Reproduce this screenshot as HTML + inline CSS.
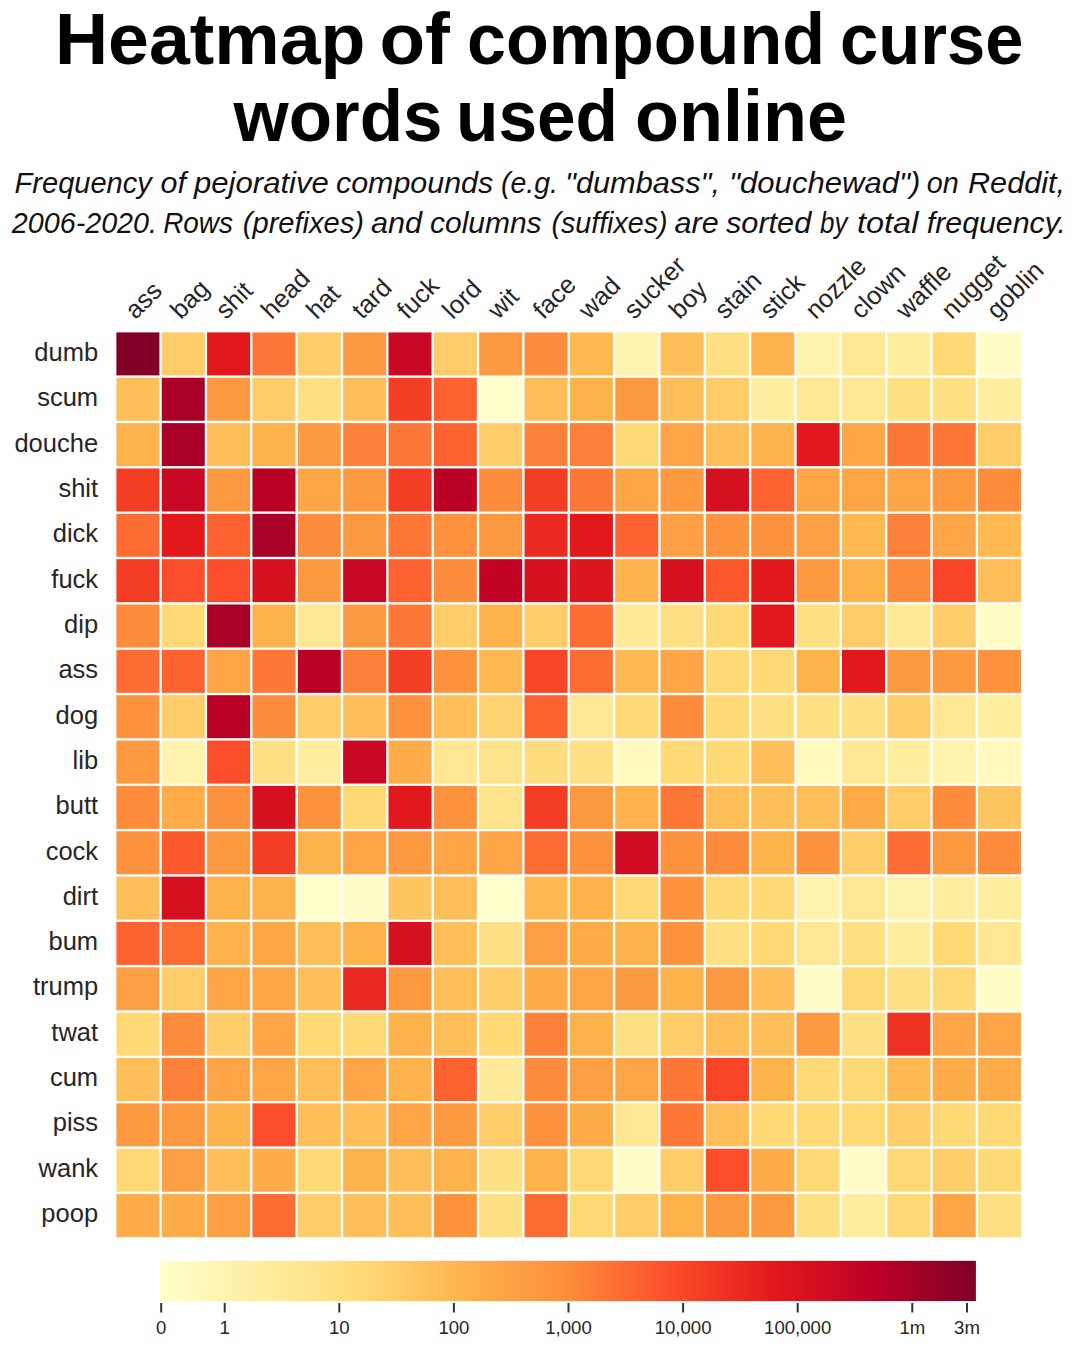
<!DOCTYPE html><html><head><meta charset="utf-8"><style>html,body{margin:0;padding:0;background:#fff;}svg{display:block;}</style></head><body>
<svg width="1080" height="1350" viewBox="0 0 1080 1350">
<rect x="0" y="0" width="1080" height="1350" fill="#fff"/>
<text x="55.00" y="64.20" font-family="&quot;Liberation Sans&quot;, sans-serif" font-weight="bold" fill="#000" font-size="72.00" textLength="310.50" lengthAdjust="spacingAndGlyphs">Heatmap</text>
<text x="379.50" y="64.20" font-family="&quot;Liberation Sans&quot;, sans-serif" font-weight="bold" fill="#000" font-size="72.00" textLength="70.50" lengthAdjust="spacingAndGlyphs">of</text>
<text x="467.00" y="64.20" font-family="&quot;Liberation Sans&quot;, sans-serif" font-weight="bold" fill="#000" font-size="72.00" textLength="358.00" lengthAdjust="spacingAndGlyphs">compound</text>
<text x="840.00" y="64.20" font-family="&quot;Liberation Sans&quot;, sans-serif" font-weight="bold" fill="#000" font-size="72.00" textLength="183.50" lengthAdjust="spacingAndGlyphs">curse</text>
<text x="233.50" y="140.90" font-family="&quot;Liberation Sans&quot;, sans-serif" font-weight="bold" fill="#000" font-size="72.00" textLength="209.00" lengthAdjust="spacingAndGlyphs">words</text>
<text x="456.00" y="140.90" font-family="&quot;Liberation Sans&quot;, sans-serif" font-weight="bold" fill="#000" font-size="72.00" textLength="162.00" lengthAdjust="spacingAndGlyphs">used</text>
<text x="635.00" y="140.90" font-family="&quot;Liberation Sans&quot;, sans-serif" font-weight="bold" fill="#000" font-size="72.00" textLength="212.00" lengthAdjust="spacingAndGlyphs">online</text>
<text x="14.60" y="192.80" font-family="&quot;Liberation Sans&quot;, sans-serif" font-style="italic" fill="#111" font-size="30.40" textLength="137.20" lengthAdjust="spacingAndGlyphs">Frequency</text>
<text x="160.60" y="192.80" font-family="&quot;Liberation Sans&quot;, sans-serif" font-style="italic" fill="#111" font-size="30.40" textLength="25.40" lengthAdjust="spacingAndGlyphs">of</text>
<text x="194.00" y="192.80" font-family="&quot;Liberation Sans&quot;, sans-serif" font-style="italic" fill="#111" font-size="30.40" textLength="134.80" lengthAdjust="spacingAndGlyphs">pejorative</text>
<text x="336.00" y="192.80" font-family="&quot;Liberation Sans&quot;, sans-serif" font-style="italic" fill="#111" font-size="30.40" textLength="157.20" lengthAdjust="spacingAndGlyphs">compounds</text>
<text x="501.00" y="192.80" font-family="&quot;Liberation Sans&quot;, sans-serif" font-style="italic" fill="#111" font-size="30.40" textLength="57.00" lengthAdjust="spacingAndGlyphs">(e.g.</text>
<text x="565.00" y="192.80" font-family="&quot;Liberation Sans&quot;, sans-serif" font-style="italic" fill="#111" font-size="30.40" textLength="155.00" lengthAdjust="spacingAndGlyphs">&quot;dumbass&quot;,</text>
<text x="729.00" y="192.80" font-family="&quot;Liberation Sans&quot;, sans-serif" font-style="italic" fill="#111" font-size="30.40" textLength="191.40" lengthAdjust="spacingAndGlyphs">&quot;douchewad&quot;)</text>
<text x="926.80" y="192.80" font-family="&quot;Liberation Sans&quot;, sans-serif" font-style="italic" fill="#111" font-size="30.40" textLength="32.00" lengthAdjust="spacingAndGlyphs">on</text>
<text x="968.00" y="192.80" font-family="&quot;Liberation Sans&quot;, sans-serif" font-style="italic" fill="#111" font-size="30.40" textLength="97.00" lengthAdjust="spacingAndGlyphs">Reddit,</text>
<text x="11.80" y="232.70" font-family="&quot;Liberation Sans&quot;, sans-serif" font-style="italic" fill="#111" font-size="30.40" textLength="145.20" lengthAdjust="spacingAndGlyphs">2006-2020.</text>
<text x="163.20" y="232.70" font-family="&quot;Liberation Sans&quot;, sans-serif" font-style="italic" fill="#111" font-size="30.40" textLength="69.80" lengthAdjust="spacingAndGlyphs">Rows</text>
<text x="242.80" y="232.70" font-family="&quot;Liberation Sans&quot;, sans-serif" font-style="italic" fill="#111" font-size="30.40" textLength="121.20" lengthAdjust="spacingAndGlyphs">(prefixes)</text>
<text x="371.00" y="232.70" font-family="&quot;Liberation Sans&quot;, sans-serif" font-style="italic" fill="#111" font-size="30.40" textLength="51.00" lengthAdjust="spacingAndGlyphs">and</text>
<text x="430.00" y="232.70" font-family="&quot;Liberation Sans&quot;, sans-serif" font-style="italic" fill="#111" font-size="30.40" textLength="111.60" lengthAdjust="spacingAndGlyphs">columns</text>
<text x="551.40" y="232.70" font-family="&quot;Liberation Sans&quot;, sans-serif" font-style="italic" fill="#111" font-size="30.40" textLength="116.20" lengthAdjust="spacingAndGlyphs">(suffixes)</text>
<text x="674.60" y="232.70" font-family="&quot;Liberation Sans&quot;, sans-serif" font-style="italic" fill="#111" font-size="30.40" textLength="44.20" lengthAdjust="spacingAndGlyphs">are</text>
<text x="726.00" y="232.70" font-family="&quot;Liberation Sans&quot;, sans-serif" font-style="italic" fill="#111" font-size="30.40" textLength="85.20" lengthAdjust="spacingAndGlyphs">sorted</text>
<text x="820.00" y="232.70" font-family="&quot;Liberation Sans&quot;, sans-serif" font-style="italic" fill="#111" font-size="30.40" textLength="27.40" lengthAdjust="spacingAndGlyphs">by</text>
<text x="857.00" y="232.70" font-family="&quot;Liberation Sans&quot;, sans-serif" font-style="italic" fill="#111" font-size="30.40" textLength="61.40" lengthAdjust="spacingAndGlyphs">total</text>
<text x="926.80" y="232.70" font-family="&quot;Liberation Sans&quot;, sans-serif" font-style="italic" fill="#111" font-size="30.40" textLength="139.20" lengthAdjust="spacingAndGlyphs">frequency.</text>
<rect x="116.40" y="332.40" width="43.00" height="43.00" fill="#800026"/>
<rect x="161.75" y="332.40" width="43.00" height="43.00" fill="#fecc68"/>
<rect x="207.10" y="332.40" width="43.00" height="43.00" fill="#e2191c"/>
<rect x="252.45" y="332.40" width="43.00" height="43.00" fill="#fd7836"/>
<rect x="297.80" y="332.40" width="43.00" height="43.00" fill="#fecc68"/>
<rect x="343.15" y="332.40" width="43.00" height="43.00" fill="#fd9941"/>
<rect x="388.50" y="332.40" width="43.00" height="43.00" fill="#c90823"/>
<rect x="433.85" y="332.40" width="43.00" height="43.00" fill="#fecc68"/>
<rect x="479.20" y="332.40" width="43.00" height="43.00" fill="#fd9941"/>
<rect x="524.55" y="332.40" width="43.00" height="43.00" fill="#fd8c3c"/>
<rect x="569.90" y="332.40" width="43.00" height="43.00" fill="#feb953"/>
<rect x="615.25" y="332.40" width="43.00" height="43.00" fill="#fff3af"/>
<rect x="660.60" y="332.40" width="43.00" height="43.00" fill="#febf5a"/>
<rect x="705.95" y="332.40" width="43.00" height="43.00" fill="#fee084"/>
<rect x="751.30" y="332.40" width="43.00" height="43.00" fill="#feb24c"/>
<rect x="796.65" y="332.40" width="43.00" height="43.00" fill="#fff3af"/>
<rect x="842.00" y="332.40" width="43.00" height="43.00" fill="#ffe793"/>
<rect x="887.35" y="332.40" width="43.00" height="43.00" fill="#ffeda0"/>
<rect x="932.70" y="332.40" width="43.00" height="43.00" fill="#fed976"/>
<rect x="978.05" y="332.40" width="43.00" height="43.00" fill="#fffcc5"/>
<rect x="116.40" y="377.75" width="43.00" height="43.00" fill="#febf5a"/>
<rect x="161.75" y="377.75" width="43.00" height="43.00" fill="#a80026"/>
<rect x="207.10" y="377.75" width="43.00" height="43.00" fill="#fd9941"/>
<rect x="252.45" y="377.75" width="43.00" height="43.00" fill="#fecc68"/>
<rect x="297.80" y="377.75" width="43.00" height="43.00" fill="#fee084"/>
<rect x="343.15" y="377.75" width="43.00" height="43.00" fill="#febf5a"/>
<rect x="388.50" y="377.75" width="43.00" height="43.00" fill="#f43d25"/>
<rect x="433.85" y="377.75" width="43.00" height="43.00" fill="#fc6330"/>
<rect x="479.20" y="377.75" width="43.00" height="43.00" fill="#ffffcc"/>
<rect x="524.55" y="377.75" width="43.00" height="43.00" fill="#febf5a"/>
<rect x="569.90" y="377.75" width="43.00" height="43.00" fill="#feb24c"/>
<rect x="615.25" y="377.75" width="43.00" height="43.00" fill="#fd9941"/>
<rect x="660.60" y="377.75" width="43.00" height="43.00" fill="#febf5a"/>
<rect x="705.95" y="377.75" width="43.00" height="43.00" fill="#fecc68"/>
<rect x="751.30" y="377.75" width="43.00" height="43.00" fill="#ffeda0"/>
<rect x="796.65" y="377.75" width="43.00" height="43.00" fill="#ffe793"/>
<rect x="842.00" y="377.75" width="43.00" height="43.00" fill="#ffe793"/>
<rect x="887.35" y="377.75" width="43.00" height="43.00" fill="#fee084"/>
<rect x="932.70" y="377.75" width="43.00" height="43.00" fill="#fee084"/>
<rect x="978.05" y="377.75" width="43.00" height="43.00" fill="#ffeda0"/>
<rect x="116.40" y="423.10" width="43.00" height="43.00" fill="#feb24c"/>
<rect x="161.75" y="423.10" width="43.00" height="43.00" fill="#a80026"/>
<rect x="207.10" y="423.10" width="43.00" height="43.00" fill="#febf5a"/>
<rect x="252.45" y="423.10" width="43.00" height="43.00" fill="#feb24c"/>
<rect x="297.80" y="423.10" width="43.00" height="43.00" fill="#fd9941"/>
<rect x="343.15" y="423.10" width="43.00" height="43.00" fill="#fd8239"/>
<rect x="388.50" y="423.10" width="43.00" height="43.00" fill="#fd7836"/>
<rect x="433.85" y="423.10" width="43.00" height="43.00" fill="#fc6330"/>
<rect x="479.20" y="423.10" width="43.00" height="43.00" fill="#fecc68"/>
<rect x="524.55" y="423.10" width="43.00" height="43.00" fill="#fd8239"/>
<rect x="569.90" y="423.10" width="43.00" height="43.00" fill="#fd8239"/>
<rect x="615.25" y="423.10" width="43.00" height="43.00" fill="#fed976"/>
<rect x="660.60" y="423.10" width="43.00" height="43.00" fill="#fea647"/>
<rect x="705.95" y="423.10" width="43.00" height="43.00" fill="#febf5a"/>
<rect x="751.30" y="423.10" width="43.00" height="43.00" fill="#feb24c"/>
<rect x="796.65" y="423.10" width="43.00" height="43.00" fill="#e2191c"/>
<rect x="842.00" y="423.10" width="43.00" height="43.00" fill="#fea647"/>
<rect x="887.35" y="423.10" width="43.00" height="43.00" fill="#fd7836"/>
<rect x="932.70" y="423.10" width="43.00" height="43.00" fill="#fd7836"/>
<rect x="978.05" y="423.10" width="43.00" height="43.00" fill="#fecc68"/>
<rect x="116.40" y="468.45" width="43.00" height="43.00" fill="#f43d25"/>
<rect x="161.75" y="468.45" width="43.00" height="43.00" fill="#c90823"/>
<rect x="207.10" y="468.45" width="43.00" height="43.00" fill="#fd9941"/>
<rect x="252.45" y="468.45" width="43.00" height="43.00" fill="#bb0026"/>
<rect x="297.80" y="468.45" width="43.00" height="43.00" fill="#fea647"/>
<rect x="343.15" y="468.45" width="43.00" height="43.00" fill="#fd9941"/>
<rect x="388.50" y="468.45" width="43.00" height="43.00" fill="#f43d25"/>
<rect x="433.85" y="468.45" width="43.00" height="43.00" fill="#bb0026"/>
<rect x="479.20" y="468.45" width="43.00" height="43.00" fill="#fd8c3c"/>
<rect x="524.55" y="468.45" width="43.00" height="43.00" fill="#f43d25"/>
<rect x="569.90" y="468.45" width="43.00" height="43.00" fill="#fd7836"/>
<rect x="615.25" y="468.45" width="43.00" height="43.00" fill="#fea647"/>
<rect x="660.60" y="468.45" width="43.00" height="43.00" fill="#fd9941"/>
<rect x="705.95" y="468.45" width="43.00" height="43.00" fill="#d6111f"/>
<rect x="751.30" y="468.45" width="43.00" height="43.00" fill="#fc6330"/>
<rect x="796.65" y="468.45" width="43.00" height="43.00" fill="#fea647"/>
<rect x="842.00" y="468.45" width="43.00" height="43.00" fill="#fea647"/>
<rect x="887.35" y="468.45" width="43.00" height="43.00" fill="#fea647"/>
<rect x="932.70" y="468.45" width="43.00" height="43.00" fill="#fd9941"/>
<rect x="978.05" y="468.45" width="43.00" height="43.00" fill="#fd8c3c"/>
<rect x="116.40" y="513.80" width="43.00" height="43.00" fill="#fc6c33"/>
<rect x="161.75" y="513.80" width="43.00" height="43.00" fill="#e2191c"/>
<rect x="207.10" y="513.80" width="43.00" height="43.00" fill="#fc6330"/>
<rect x="252.45" y="513.80" width="43.00" height="43.00" fill="#a80026"/>
<rect x="297.80" y="513.80" width="43.00" height="43.00" fill="#fd8c3c"/>
<rect x="343.15" y="513.80" width="43.00" height="43.00" fill="#fd9941"/>
<rect x="388.50" y="513.80" width="43.00" height="43.00" fill="#fd7836"/>
<rect x="433.85" y="513.80" width="43.00" height="43.00" fill="#fd933f"/>
<rect x="479.20" y="513.80" width="43.00" height="43.00" fill="#fd9941"/>
<rect x="524.55" y="513.80" width="43.00" height="43.00" fill="#eb2b21"/>
<rect x="569.90" y="513.80" width="43.00" height="43.00" fill="#e2191c"/>
<rect x="615.25" y="513.80" width="43.00" height="43.00" fill="#fc6330"/>
<rect x="660.60" y="513.80" width="43.00" height="43.00" fill="#fd9f44"/>
<rect x="705.95" y="513.80" width="43.00" height="43.00" fill="#fd933f"/>
<rect x="751.30" y="513.80" width="43.00" height="43.00" fill="#fd933f"/>
<rect x="796.65" y="513.80" width="43.00" height="43.00" fill="#fd9f44"/>
<rect x="842.00" y="513.80" width="43.00" height="43.00" fill="#feb953"/>
<rect x="887.35" y="513.80" width="43.00" height="43.00" fill="#fd8239"/>
<rect x="932.70" y="513.80" width="43.00" height="43.00" fill="#fea647"/>
<rect x="978.05" y="513.80" width="43.00" height="43.00" fill="#feb953"/>
<rect x="116.40" y="559.15" width="43.00" height="43.00" fill="#f43d25"/>
<rect x="161.75" y="559.15" width="43.00" height="43.00" fill="#fc4d2a"/>
<rect x="207.10" y="559.15" width="43.00" height="43.00" fill="#fc4d2a"/>
<rect x="252.45" y="559.15" width="43.00" height="43.00" fill="#d6111f"/>
<rect x="297.80" y="559.15" width="43.00" height="43.00" fill="#fd9941"/>
<rect x="343.15" y="559.15" width="43.00" height="43.00" fill="#c90823"/>
<rect x="388.50" y="559.15" width="43.00" height="43.00" fill="#fc6330"/>
<rect x="433.85" y="559.15" width="43.00" height="43.00" fill="#fd8c3c"/>
<rect x="479.20" y="559.15" width="43.00" height="43.00" fill="#c30424"/>
<rect x="524.55" y="559.15" width="43.00" height="43.00" fill="#d6111f"/>
<rect x="569.90" y="559.15" width="43.00" height="43.00" fill="#dc151e"/>
<rect x="615.25" y="559.15" width="43.00" height="43.00" fill="#feb24c"/>
<rect x="660.60" y="559.15" width="43.00" height="43.00" fill="#d6111f"/>
<rect x="705.95" y="559.15" width="43.00" height="43.00" fill="#fc592d"/>
<rect x="751.30" y="559.15" width="43.00" height="43.00" fill="#e2191c"/>
<rect x="796.65" y="559.15" width="43.00" height="43.00" fill="#fd9941"/>
<rect x="842.00" y="559.15" width="43.00" height="43.00" fill="#feb24c"/>
<rect x="887.35" y="559.15" width="43.00" height="43.00" fill="#fd8c3c"/>
<rect x="932.70" y="559.15" width="43.00" height="43.00" fill="#f84528"/>
<rect x="978.05" y="559.15" width="43.00" height="43.00" fill="#febf5a"/>
<rect x="116.40" y="604.50" width="43.00" height="43.00" fill="#fd8c3c"/>
<rect x="161.75" y="604.50" width="43.00" height="43.00" fill="#fed976"/>
<rect x="207.10" y="604.50" width="43.00" height="43.00" fill="#a80026"/>
<rect x="252.45" y="604.50" width="43.00" height="43.00" fill="#feb24c"/>
<rect x="297.80" y="604.50" width="43.00" height="43.00" fill="#ffe793"/>
<rect x="343.15" y="604.50" width="43.00" height="43.00" fill="#fd9941"/>
<rect x="388.50" y="604.50" width="43.00" height="43.00" fill="#fd7836"/>
<rect x="433.85" y="604.50" width="43.00" height="43.00" fill="#fecc68"/>
<rect x="479.20" y="604.50" width="43.00" height="43.00" fill="#feb24c"/>
<rect x="524.55" y="604.50" width="43.00" height="43.00" fill="#fecc68"/>
<rect x="569.90" y="604.50" width="43.00" height="43.00" fill="#fc6c33"/>
<rect x="615.25" y="604.50" width="43.00" height="43.00" fill="#ffea99"/>
<rect x="660.60" y="604.50" width="43.00" height="43.00" fill="#fee084"/>
<rect x="705.95" y="604.50" width="43.00" height="43.00" fill="#fed976"/>
<rect x="751.30" y="604.50" width="43.00" height="43.00" fill="#e2191c"/>
<rect x="796.65" y="604.50" width="43.00" height="43.00" fill="#fee084"/>
<rect x="842.00" y="604.50" width="43.00" height="43.00" fill="#fecc68"/>
<rect x="887.35" y="604.50" width="43.00" height="43.00" fill="#ffe793"/>
<rect x="932.70" y="604.50" width="43.00" height="43.00" fill="#fecc68"/>
<rect x="978.05" y="604.50" width="43.00" height="43.00" fill="#fffcc5"/>
<rect x="116.40" y="649.85" width="43.00" height="43.00" fill="#fc6c33"/>
<rect x="161.75" y="649.85" width="43.00" height="43.00" fill="#fc6330"/>
<rect x="207.10" y="649.85" width="43.00" height="43.00" fill="#fea647"/>
<rect x="252.45" y="649.85" width="43.00" height="43.00" fill="#fd7836"/>
<rect x="297.80" y="649.85" width="43.00" height="43.00" fill="#bb0026"/>
<rect x="343.15" y="649.85" width="43.00" height="43.00" fill="#fd8239"/>
<rect x="388.50" y="649.85" width="43.00" height="43.00" fill="#f43d25"/>
<rect x="433.85" y="649.85" width="43.00" height="43.00" fill="#fd933f"/>
<rect x="479.20" y="649.85" width="43.00" height="43.00" fill="#feb953"/>
<rect x="524.55" y="649.85" width="43.00" height="43.00" fill="#f84528"/>
<rect x="569.90" y="649.85" width="43.00" height="43.00" fill="#fc6c33"/>
<rect x="615.25" y="649.85" width="43.00" height="43.00" fill="#feb953"/>
<rect x="660.60" y="649.85" width="43.00" height="43.00" fill="#fea647"/>
<rect x="705.95" y="649.85" width="43.00" height="43.00" fill="#fed976"/>
<rect x="751.30" y="649.85" width="43.00" height="43.00" fill="#fed976"/>
<rect x="796.65" y="649.85" width="43.00" height="43.00" fill="#feb24c"/>
<rect x="842.00" y="649.85" width="43.00" height="43.00" fill="#e2191c"/>
<rect x="887.35" y="649.85" width="43.00" height="43.00" fill="#fd9941"/>
<rect x="932.70" y="649.85" width="43.00" height="43.00" fill="#fd9941"/>
<rect x="978.05" y="649.85" width="43.00" height="43.00" fill="#fd933f"/>
<rect x="116.40" y="695.20" width="43.00" height="43.00" fill="#fd933f"/>
<rect x="161.75" y="695.20" width="43.00" height="43.00" fill="#fecc68"/>
<rect x="207.10" y="695.20" width="43.00" height="43.00" fill="#bb0026"/>
<rect x="252.45" y="695.20" width="43.00" height="43.00" fill="#fd8c3c"/>
<rect x="297.80" y="695.20" width="43.00" height="43.00" fill="#fecc68"/>
<rect x="343.15" y="695.20" width="43.00" height="43.00" fill="#febf5a"/>
<rect x="388.50" y="695.20" width="43.00" height="43.00" fill="#fd933f"/>
<rect x="433.85" y="695.20" width="43.00" height="43.00" fill="#febf5a"/>
<rect x="479.20" y="695.20" width="43.00" height="43.00" fill="#fed36f"/>
<rect x="524.55" y="695.20" width="43.00" height="43.00" fill="#fc6330"/>
<rect x="569.90" y="695.20" width="43.00" height="43.00" fill="#ffe793"/>
<rect x="615.25" y="695.20" width="43.00" height="43.00" fill="#fed976"/>
<rect x="660.60" y="695.20" width="43.00" height="43.00" fill="#fd8c3c"/>
<rect x="705.95" y="695.20" width="43.00" height="43.00" fill="#fed976"/>
<rect x="751.30" y="695.20" width="43.00" height="43.00" fill="#fee084"/>
<rect x="796.65" y="695.20" width="43.00" height="43.00" fill="#fee084"/>
<rect x="842.00" y="695.20" width="43.00" height="43.00" fill="#fee084"/>
<rect x="887.35" y="695.20" width="43.00" height="43.00" fill="#fecc68"/>
<rect x="932.70" y="695.20" width="43.00" height="43.00" fill="#ffe793"/>
<rect x="978.05" y="695.20" width="43.00" height="43.00" fill="#ffeda0"/>
<rect x="116.40" y="740.55" width="43.00" height="43.00" fill="#fd9941"/>
<rect x="161.75" y="740.55" width="43.00" height="43.00" fill="#fff3af"/>
<rect x="207.10" y="740.55" width="43.00" height="43.00" fill="#fc4d2a"/>
<rect x="252.45" y="740.55" width="43.00" height="43.00" fill="#fee084"/>
<rect x="297.80" y="740.55" width="43.00" height="43.00" fill="#ffeda0"/>
<rect x="343.15" y="740.55" width="43.00" height="43.00" fill="#c90823"/>
<rect x="388.50" y="740.55" width="43.00" height="43.00" fill="#feac49"/>
<rect x="433.85" y="740.55" width="43.00" height="43.00" fill="#ffe793"/>
<rect x="479.20" y="740.55" width="43.00" height="43.00" fill="#fee38b"/>
<rect x="524.55" y="740.55" width="43.00" height="43.00" fill="#fedd7e"/>
<rect x="569.90" y="740.55" width="43.00" height="43.00" fill="#fee084"/>
<rect x="615.25" y="740.55" width="43.00" height="43.00" fill="#fff9be"/>
<rect x="660.60" y="740.55" width="43.00" height="43.00" fill="#fed976"/>
<rect x="705.95" y="740.55" width="43.00" height="43.00" fill="#fed976"/>
<rect x="751.30" y="740.55" width="43.00" height="43.00" fill="#febf5a"/>
<rect x="796.65" y="740.55" width="43.00" height="43.00" fill="#fff9be"/>
<rect x="842.00" y="740.55" width="43.00" height="43.00" fill="#ffe793"/>
<rect x="887.35" y="740.55" width="43.00" height="43.00" fill="#ffeda0"/>
<rect x="932.70" y="740.55" width="43.00" height="43.00" fill="#fff3af"/>
<rect x="978.05" y="740.55" width="43.00" height="43.00" fill="#fff9be"/>
<rect x="116.40" y="785.90" width="43.00" height="43.00" fill="#fd8c3c"/>
<rect x="161.75" y="785.90" width="43.00" height="43.00" fill="#feac49"/>
<rect x="207.10" y="785.90" width="43.00" height="43.00" fill="#fd933f"/>
<rect x="252.45" y="785.90" width="43.00" height="43.00" fill="#d6111f"/>
<rect x="297.80" y="785.90" width="43.00" height="43.00" fill="#fd933f"/>
<rect x="343.15" y="785.90" width="43.00" height="43.00" fill="#fed976"/>
<rect x="388.50" y="785.90" width="43.00" height="43.00" fill="#e2191c"/>
<rect x="433.85" y="785.90" width="43.00" height="43.00" fill="#fd933f"/>
<rect x="479.20" y="785.90" width="43.00" height="43.00" fill="#fee38b"/>
<rect x="524.55" y="785.90" width="43.00" height="43.00" fill="#f43d25"/>
<rect x="569.90" y="785.90" width="43.00" height="43.00" fill="#fd9941"/>
<rect x="615.25" y="785.90" width="43.00" height="43.00" fill="#feb24c"/>
<rect x="660.60" y="785.90" width="43.00" height="43.00" fill="#fd7836"/>
<rect x="705.95" y="785.90" width="43.00" height="43.00" fill="#febf5a"/>
<rect x="751.30" y="785.90" width="43.00" height="43.00" fill="#febf5a"/>
<rect x="796.65" y="785.90" width="43.00" height="43.00" fill="#febf5a"/>
<rect x="842.00" y="785.90" width="43.00" height="43.00" fill="#feac49"/>
<rect x="887.35" y="785.90" width="43.00" height="43.00" fill="#fecc68"/>
<rect x="932.70" y="785.90" width="43.00" height="43.00" fill="#fd8c3c"/>
<rect x="978.05" y="785.90" width="43.00" height="43.00" fill="#fec561"/>
<rect x="116.40" y="831.25" width="43.00" height="43.00" fill="#fd933f"/>
<rect x="161.75" y="831.25" width="43.00" height="43.00" fill="#fc592d"/>
<rect x="207.10" y="831.25" width="43.00" height="43.00" fill="#fd9941"/>
<rect x="252.45" y="831.25" width="43.00" height="43.00" fill="#f43d25"/>
<rect x="297.80" y="831.25" width="43.00" height="43.00" fill="#feb24c"/>
<rect x="343.15" y="831.25" width="43.00" height="43.00" fill="#fea647"/>
<rect x="388.50" y="831.25" width="43.00" height="43.00" fill="#fd9941"/>
<rect x="433.85" y="831.25" width="43.00" height="43.00" fill="#fea647"/>
<rect x="479.20" y="831.25" width="43.00" height="43.00" fill="#fea647"/>
<rect x="524.55" y="831.25" width="43.00" height="43.00" fill="#fc6c33"/>
<rect x="569.90" y="831.25" width="43.00" height="43.00" fill="#fd933f"/>
<rect x="615.25" y="831.25" width="43.00" height="43.00" fill="#cf0c21"/>
<rect x="660.60" y="831.25" width="43.00" height="43.00" fill="#fd933f"/>
<rect x="705.95" y="831.25" width="43.00" height="43.00" fill="#fd8c3c"/>
<rect x="751.30" y="831.25" width="43.00" height="43.00" fill="#feb24c"/>
<rect x="796.65" y="831.25" width="43.00" height="43.00" fill="#fd933f"/>
<rect x="842.00" y="831.25" width="43.00" height="43.00" fill="#fecc68"/>
<rect x="887.35" y="831.25" width="43.00" height="43.00" fill="#fc6c33"/>
<rect x="932.70" y="831.25" width="43.00" height="43.00" fill="#fd9941"/>
<rect x="978.05" y="831.25" width="43.00" height="43.00" fill="#fd8c3c"/>
<rect x="116.40" y="876.60" width="43.00" height="43.00" fill="#febf5a"/>
<rect x="161.75" y="876.60" width="43.00" height="43.00" fill="#d6111f"/>
<rect x="207.10" y="876.60" width="43.00" height="43.00" fill="#feb24c"/>
<rect x="252.45" y="876.60" width="43.00" height="43.00" fill="#feb24c"/>
<rect x="297.80" y="876.60" width="43.00" height="43.00" fill="#ffffcc"/>
<rect x="343.15" y="876.60" width="43.00" height="43.00" fill="#fffcc5"/>
<rect x="388.50" y="876.60" width="43.00" height="43.00" fill="#fec561"/>
<rect x="433.85" y="876.60" width="43.00" height="43.00" fill="#febf5a"/>
<rect x="479.20" y="876.60" width="43.00" height="43.00" fill="#ffffcc"/>
<rect x="524.55" y="876.60" width="43.00" height="43.00" fill="#feb953"/>
<rect x="569.90" y="876.60" width="43.00" height="43.00" fill="#feb24c"/>
<rect x="615.25" y="876.60" width="43.00" height="43.00" fill="#fed976"/>
<rect x="660.60" y="876.60" width="43.00" height="43.00" fill="#fd933f"/>
<rect x="705.95" y="876.60" width="43.00" height="43.00" fill="#fed976"/>
<rect x="751.30" y="876.60" width="43.00" height="43.00" fill="#fed976"/>
<rect x="796.65" y="876.60" width="43.00" height="43.00" fill="#fff3af"/>
<rect x="842.00" y="876.60" width="43.00" height="43.00" fill="#ffe793"/>
<rect x="887.35" y="876.60" width="43.00" height="43.00" fill="#fff3af"/>
<rect x="932.70" y="876.60" width="43.00" height="43.00" fill="#ffeda0"/>
<rect x="978.05" y="876.60" width="43.00" height="43.00" fill="#ffeda0"/>
<rect x="116.40" y="921.95" width="43.00" height="43.00" fill="#fc6330"/>
<rect x="161.75" y="921.95" width="43.00" height="43.00" fill="#fc6c33"/>
<rect x="207.10" y="921.95" width="43.00" height="43.00" fill="#feb24c"/>
<rect x="252.45" y="921.95" width="43.00" height="43.00" fill="#fea647"/>
<rect x="297.80" y="921.95" width="43.00" height="43.00" fill="#febf5a"/>
<rect x="343.15" y="921.95" width="43.00" height="43.00" fill="#feb24c"/>
<rect x="388.50" y="921.95" width="43.00" height="43.00" fill="#d6111f"/>
<rect x="433.85" y="921.95" width="43.00" height="43.00" fill="#febf5a"/>
<rect x="479.20" y="921.95" width="43.00" height="43.00" fill="#fee084"/>
<rect x="524.55" y="921.95" width="43.00" height="43.00" fill="#fd9f44"/>
<rect x="569.90" y="921.95" width="43.00" height="43.00" fill="#feac49"/>
<rect x="615.25" y="921.95" width="43.00" height="43.00" fill="#feb24c"/>
<rect x="660.60" y="921.95" width="43.00" height="43.00" fill="#fd933f"/>
<rect x="705.95" y="921.95" width="43.00" height="43.00" fill="#fee084"/>
<rect x="751.30" y="921.95" width="43.00" height="43.00" fill="#fed976"/>
<rect x="796.65" y="921.95" width="43.00" height="43.00" fill="#ffe793"/>
<rect x="842.00" y="921.95" width="43.00" height="43.00" fill="#fee084"/>
<rect x="887.35" y="921.95" width="43.00" height="43.00" fill="#ffeda0"/>
<rect x="932.70" y="921.95" width="43.00" height="43.00" fill="#fed976"/>
<rect x="978.05" y="921.95" width="43.00" height="43.00" fill="#ffe793"/>
<rect x="116.40" y="967.30" width="43.00" height="43.00" fill="#fd9f44"/>
<rect x="161.75" y="967.30" width="43.00" height="43.00" fill="#fecc68"/>
<rect x="207.10" y="967.30" width="43.00" height="43.00" fill="#fea647"/>
<rect x="252.45" y="967.30" width="43.00" height="43.00" fill="#fea647"/>
<rect x="297.80" y="967.30" width="43.00" height="43.00" fill="#febf5a"/>
<rect x="343.15" y="967.30" width="43.00" height="43.00" fill="#eb2b21"/>
<rect x="388.50" y="967.30" width="43.00" height="43.00" fill="#fd9941"/>
<rect x="433.85" y="967.30" width="43.00" height="43.00" fill="#febf5a"/>
<rect x="479.20" y="967.30" width="43.00" height="43.00" fill="#fecc68"/>
<rect x="524.55" y="967.30" width="43.00" height="43.00" fill="#feac49"/>
<rect x="569.90" y="967.30" width="43.00" height="43.00" fill="#fea647"/>
<rect x="615.25" y="967.30" width="43.00" height="43.00" fill="#fd9941"/>
<rect x="660.60" y="967.30" width="43.00" height="43.00" fill="#feb24c"/>
<rect x="705.95" y="967.30" width="43.00" height="43.00" fill="#fd9941"/>
<rect x="751.30" y="967.30" width="43.00" height="43.00" fill="#febf5a"/>
<rect x="796.65" y="967.30" width="43.00" height="43.00" fill="#fffcc5"/>
<rect x="842.00" y="967.30" width="43.00" height="43.00" fill="#fed976"/>
<rect x="887.35" y="967.30" width="43.00" height="43.00" fill="#fee084"/>
<rect x="932.70" y="967.30" width="43.00" height="43.00" fill="#fed976"/>
<rect x="978.05" y="967.30" width="43.00" height="43.00" fill="#fffcc5"/>
<rect x="116.40" y="1012.65" width="43.00" height="43.00" fill="#fed976"/>
<rect x="161.75" y="1012.65" width="43.00" height="43.00" fill="#fd8c3c"/>
<rect x="207.10" y="1012.65" width="43.00" height="43.00" fill="#fecc68"/>
<rect x="252.45" y="1012.65" width="43.00" height="43.00" fill="#fea647"/>
<rect x="297.80" y="1012.65" width="43.00" height="43.00" fill="#fed976"/>
<rect x="343.15" y="1012.65" width="43.00" height="43.00" fill="#fed976"/>
<rect x="388.50" y="1012.65" width="43.00" height="43.00" fill="#feb24c"/>
<rect x="433.85" y="1012.65" width="43.00" height="43.00" fill="#febf5a"/>
<rect x="479.20" y="1012.65" width="43.00" height="43.00" fill="#fed976"/>
<rect x="524.55" y="1012.65" width="43.00" height="43.00" fill="#fd8239"/>
<rect x="569.90" y="1012.65" width="43.00" height="43.00" fill="#feb24c"/>
<rect x="615.25" y="1012.65" width="43.00" height="43.00" fill="#fee084"/>
<rect x="660.60" y="1012.65" width="43.00" height="43.00" fill="#fecc68"/>
<rect x="705.95" y="1012.65" width="43.00" height="43.00" fill="#febf5a"/>
<rect x="751.30" y="1012.65" width="43.00" height="43.00" fill="#febf5a"/>
<rect x="796.65" y="1012.65" width="43.00" height="43.00" fill="#fd9941"/>
<rect x="842.00" y="1012.65" width="43.00" height="43.00" fill="#fee084"/>
<rect x="887.35" y="1012.65" width="43.00" height="43.00" fill="#ef3323"/>
<rect x="932.70" y="1012.65" width="43.00" height="43.00" fill="#fea647"/>
<rect x="978.05" y="1012.65" width="43.00" height="43.00" fill="#fea647"/>
<rect x="116.40" y="1058.00" width="43.00" height="43.00" fill="#febf5a"/>
<rect x="161.75" y="1058.00" width="43.00" height="43.00" fill="#fd8239"/>
<rect x="207.10" y="1058.00" width="43.00" height="43.00" fill="#fea647"/>
<rect x="252.45" y="1058.00" width="43.00" height="43.00" fill="#fea647"/>
<rect x="297.80" y="1058.00" width="43.00" height="43.00" fill="#febf5a"/>
<rect x="343.15" y="1058.00" width="43.00" height="43.00" fill="#fea647"/>
<rect x="388.50" y="1058.00" width="43.00" height="43.00" fill="#feb24c"/>
<rect x="433.85" y="1058.00" width="43.00" height="43.00" fill="#fc6330"/>
<rect x="479.20" y="1058.00" width="43.00" height="43.00" fill="#ffea99"/>
<rect x="524.55" y="1058.00" width="43.00" height="43.00" fill="#fd8c3c"/>
<rect x="569.90" y="1058.00" width="43.00" height="43.00" fill="#fd9f44"/>
<rect x="615.25" y="1058.00" width="43.00" height="43.00" fill="#fea647"/>
<rect x="660.60" y="1058.00" width="43.00" height="43.00" fill="#fd7836"/>
<rect x="705.95" y="1058.00" width="43.00" height="43.00" fill="#f84528"/>
<rect x="751.30" y="1058.00" width="43.00" height="43.00" fill="#feb24c"/>
<rect x="796.65" y="1058.00" width="43.00" height="43.00" fill="#fed976"/>
<rect x="842.00" y="1058.00" width="43.00" height="43.00" fill="#fed976"/>
<rect x="887.35" y="1058.00" width="43.00" height="43.00" fill="#feb953"/>
<rect x="932.70" y="1058.00" width="43.00" height="43.00" fill="#feac49"/>
<rect x="978.05" y="1058.00" width="43.00" height="43.00" fill="#feac49"/>
<rect x="116.40" y="1103.35" width="43.00" height="43.00" fill="#fd9941"/>
<rect x="161.75" y="1103.35" width="43.00" height="43.00" fill="#fd9941"/>
<rect x="207.10" y="1103.35" width="43.00" height="43.00" fill="#feb24c"/>
<rect x="252.45" y="1103.35" width="43.00" height="43.00" fill="#fc4d2a"/>
<rect x="297.80" y="1103.35" width="43.00" height="43.00" fill="#febf5a"/>
<rect x="343.15" y="1103.35" width="43.00" height="43.00" fill="#febf5a"/>
<rect x="388.50" y="1103.35" width="43.00" height="43.00" fill="#fea647"/>
<rect x="433.85" y="1103.35" width="43.00" height="43.00" fill="#fd9941"/>
<rect x="479.20" y="1103.35" width="43.00" height="43.00" fill="#fecc68"/>
<rect x="524.55" y="1103.35" width="43.00" height="43.00" fill="#fd933f"/>
<rect x="569.90" y="1103.35" width="43.00" height="43.00" fill="#feac49"/>
<rect x="615.25" y="1103.35" width="43.00" height="43.00" fill="#ffe793"/>
<rect x="660.60" y="1103.35" width="43.00" height="43.00" fill="#fd7836"/>
<rect x="705.95" y="1103.35" width="43.00" height="43.00" fill="#febf5a"/>
<rect x="751.30" y="1103.35" width="43.00" height="43.00" fill="#fed976"/>
<rect x="796.65" y="1103.35" width="43.00" height="43.00" fill="#fed976"/>
<rect x="842.00" y="1103.35" width="43.00" height="43.00" fill="#fed976"/>
<rect x="887.35" y="1103.35" width="43.00" height="43.00" fill="#fecc68"/>
<rect x="932.70" y="1103.35" width="43.00" height="43.00" fill="#fed976"/>
<rect x="978.05" y="1103.35" width="43.00" height="43.00" fill="#fed976"/>
<rect x="116.40" y="1148.70" width="43.00" height="43.00" fill="#fed976"/>
<rect x="161.75" y="1148.70" width="43.00" height="43.00" fill="#fd9f44"/>
<rect x="207.10" y="1148.70" width="43.00" height="43.00" fill="#febf5a"/>
<rect x="252.45" y="1148.70" width="43.00" height="43.00" fill="#feac49"/>
<rect x="297.80" y="1148.70" width="43.00" height="43.00" fill="#fed976"/>
<rect x="343.15" y="1148.70" width="43.00" height="43.00" fill="#feb24c"/>
<rect x="388.50" y="1148.70" width="43.00" height="43.00" fill="#febf5a"/>
<rect x="433.85" y="1148.70" width="43.00" height="43.00" fill="#feb24c"/>
<rect x="479.20" y="1148.70" width="43.00" height="43.00" fill="#fee084"/>
<rect x="524.55" y="1148.70" width="43.00" height="43.00" fill="#feb24c"/>
<rect x="569.90" y="1148.70" width="43.00" height="43.00" fill="#fed976"/>
<rect x="615.25" y="1148.70" width="43.00" height="43.00" fill="#fffcc5"/>
<rect x="660.60" y="1148.70" width="43.00" height="43.00" fill="#fecc68"/>
<rect x="705.95" y="1148.70" width="43.00" height="43.00" fill="#fc4d2a"/>
<rect x="751.30" y="1148.70" width="43.00" height="43.00" fill="#feac49"/>
<rect x="796.65" y="1148.70" width="43.00" height="43.00" fill="#fed976"/>
<rect x="842.00" y="1148.70" width="43.00" height="43.00" fill="#fffcc5"/>
<rect x="887.35" y="1148.70" width="43.00" height="43.00" fill="#fed976"/>
<rect x="932.70" y="1148.70" width="43.00" height="43.00" fill="#fecc68"/>
<rect x="978.05" y="1148.70" width="43.00" height="43.00" fill="#fed976"/>
<rect x="116.40" y="1194.05" width="43.00" height="43.00" fill="#feac49"/>
<rect x="161.75" y="1194.05" width="43.00" height="43.00" fill="#feac49"/>
<rect x="207.10" y="1194.05" width="43.00" height="43.00" fill="#fd9f44"/>
<rect x="252.45" y="1194.05" width="43.00" height="43.00" fill="#fc6c33"/>
<rect x="297.80" y="1194.05" width="43.00" height="43.00" fill="#fecc68"/>
<rect x="343.15" y="1194.05" width="43.00" height="43.00" fill="#febf5a"/>
<rect x="388.50" y="1194.05" width="43.00" height="43.00" fill="#febf5a"/>
<rect x="433.85" y="1194.05" width="43.00" height="43.00" fill="#fd933f"/>
<rect x="479.20" y="1194.05" width="43.00" height="43.00" fill="#fee084"/>
<rect x="524.55" y="1194.05" width="43.00" height="43.00" fill="#fc6c33"/>
<rect x="569.90" y="1194.05" width="43.00" height="43.00" fill="#fed976"/>
<rect x="615.25" y="1194.05" width="43.00" height="43.00" fill="#fecc68"/>
<rect x="660.60" y="1194.05" width="43.00" height="43.00" fill="#feb24c"/>
<rect x="705.95" y="1194.05" width="43.00" height="43.00" fill="#fd9941"/>
<rect x="751.30" y="1194.05" width="43.00" height="43.00" fill="#fd9941"/>
<rect x="796.65" y="1194.05" width="43.00" height="43.00" fill="#fee084"/>
<rect x="842.00" y="1194.05" width="43.00" height="43.00" fill="#ffeda0"/>
<rect x="887.35" y="1194.05" width="43.00" height="43.00" fill="#fed976"/>
<rect x="932.70" y="1194.05" width="43.00" height="43.00" fill="#fea647"/>
<rect x="978.05" y="1194.05" width="43.00" height="43.00" fill="#fee084"/>
<text x="98.1" y="361.00" font-family="&quot;Liberation Sans&quot;, sans-serif" font-size="25.5" fill="#262626" text-anchor="end">dumb</text>
<text x="98.1" y="406.32" font-family="&quot;Liberation Sans&quot;, sans-serif" font-size="25.5" fill="#262626" text-anchor="end">scum</text>
<text x="98.1" y="451.64" font-family="&quot;Liberation Sans&quot;, sans-serif" font-size="25.5" fill="#262626" text-anchor="end">douche</text>
<text x="98.1" y="496.96" font-family="&quot;Liberation Sans&quot;, sans-serif" font-size="25.5" fill="#262626" text-anchor="end">shit</text>
<text x="98.1" y="542.28" font-family="&quot;Liberation Sans&quot;, sans-serif" font-size="25.5" fill="#262626" text-anchor="end">dick</text>
<text x="98.1" y="587.60" font-family="&quot;Liberation Sans&quot;, sans-serif" font-size="25.5" fill="#262626" text-anchor="end">fuck</text>
<text x="98.1" y="632.92" font-family="&quot;Liberation Sans&quot;, sans-serif" font-size="25.5" fill="#262626" text-anchor="end">dip</text>
<text x="98.1" y="678.24" font-family="&quot;Liberation Sans&quot;, sans-serif" font-size="25.5" fill="#262626" text-anchor="end">ass</text>
<text x="98.1" y="723.56" font-family="&quot;Liberation Sans&quot;, sans-serif" font-size="25.5" fill="#262626" text-anchor="end">dog</text>
<text x="98.1" y="768.88" font-family="&quot;Liberation Sans&quot;, sans-serif" font-size="25.5" fill="#262626" text-anchor="end">lib</text>
<text x="98.1" y="814.20" font-family="&quot;Liberation Sans&quot;, sans-serif" font-size="25.5" fill="#262626" text-anchor="end">butt</text>
<text x="98.1" y="859.52" font-family="&quot;Liberation Sans&quot;, sans-serif" font-size="25.5" fill="#262626" text-anchor="end">cock</text>
<text x="98.1" y="904.84" font-family="&quot;Liberation Sans&quot;, sans-serif" font-size="25.5" fill="#262626" text-anchor="end">dirt</text>
<text x="98.1" y="950.16" font-family="&quot;Liberation Sans&quot;, sans-serif" font-size="25.5" fill="#262626" text-anchor="end">bum</text>
<text x="98.1" y="995.48" font-family="&quot;Liberation Sans&quot;, sans-serif" font-size="25.5" fill="#262626" text-anchor="end">trump</text>
<text x="98.1" y="1040.80" font-family="&quot;Liberation Sans&quot;, sans-serif" font-size="25.5" fill="#262626" text-anchor="end">twat</text>
<text x="98.1" y="1086.12" font-family="&quot;Liberation Sans&quot;, sans-serif" font-size="25.5" fill="#262626" text-anchor="end">cum</text>
<text x="98.1" y="1131.44" font-family="&quot;Liberation Sans&quot;, sans-serif" font-size="25.5" fill="#262626" text-anchor="end">piss</text>
<text x="98.1" y="1176.76" font-family="&quot;Liberation Sans&quot;, sans-serif" font-size="25.5" fill="#262626" text-anchor="end">wank</text>
<text x="98.1" y="1222.08" font-family="&quot;Liberation Sans&quot;, sans-serif" font-size="25.5" fill="#262626" text-anchor="end">poop</text>
<text x="0" y="0" font-family="&quot;Liberation Sans&quot;, sans-serif" font-size="25.5" fill="#262626" transform="translate(135.40 320.20) rotate(-45)">ass</text>
<text x="0" y="0" font-family="&quot;Liberation Sans&quot;, sans-serif" font-size="25.5" fill="#262626" transform="translate(180.75 320.20) rotate(-45)">bag</text>
<text x="0" y="0" font-family="&quot;Liberation Sans&quot;, sans-serif" font-size="25.5" fill="#262626" transform="translate(226.10 320.20) rotate(-45)">shit</text>
<text x="0" y="0" font-family="&quot;Liberation Sans&quot;, sans-serif" font-size="25.5" fill="#262626" transform="translate(271.45 320.20) rotate(-45)">head</text>
<text x="0" y="0" font-family="&quot;Liberation Sans&quot;, sans-serif" font-size="25.5" fill="#262626" transform="translate(316.80 320.20) rotate(-45)">hat</text>
<text x="0" y="0" font-family="&quot;Liberation Sans&quot;, sans-serif" font-size="25.5" fill="#262626" transform="translate(362.15 320.20) rotate(-45)">tard</text>
<text x="0" y="0" font-family="&quot;Liberation Sans&quot;, sans-serif" font-size="25.5" fill="#262626" transform="translate(407.50 320.20) rotate(-45)">fuck</text>
<text x="0" y="0" font-family="&quot;Liberation Sans&quot;, sans-serif" font-size="25.5" fill="#262626" transform="translate(452.85 320.20) rotate(-45)">lord</text>
<text x="0" y="0" font-family="&quot;Liberation Sans&quot;, sans-serif" font-size="25.5" fill="#262626" transform="translate(498.20 320.20) rotate(-45)">wit</text>
<text x="0" y="0" font-family="&quot;Liberation Sans&quot;, sans-serif" font-size="25.5" fill="#262626" transform="translate(543.55 320.20) rotate(-45)">face</text>
<text x="0" y="0" font-family="&quot;Liberation Sans&quot;, sans-serif" font-size="25.5" fill="#262626" transform="translate(588.90 320.20) rotate(-45)">wad</text>
<text x="0" y="0" font-family="&quot;Liberation Sans&quot;, sans-serif" font-size="25.5" fill="#262626" transform="translate(634.25 320.20) rotate(-45)">sucker</text>
<text x="0" y="0" font-family="&quot;Liberation Sans&quot;, sans-serif" font-size="25.5" fill="#262626" transform="translate(679.60 320.20) rotate(-45)">boy</text>
<text x="0" y="0" font-family="&quot;Liberation Sans&quot;, sans-serif" font-size="25.5" fill="#262626" transform="translate(724.95 320.20) rotate(-45)">stain</text>
<text x="0" y="0" font-family="&quot;Liberation Sans&quot;, sans-serif" font-size="25.5" fill="#262626" transform="translate(770.30 320.20) rotate(-45)">stick</text>
<text x="0" y="0" font-family="&quot;Liberation Sans&quot;, sans-serif" font-size="25.5" fill="#262626" transform="translate(815.65 320.20) rotate(-45)">nozzle</text>
<text x="0" y="0" font-family="&quot;Liberation Sans&quot;, sans-serif" font-size="25.5" fill="#262626" transform="translate(861.00 320.20) rotate(-45)">clown</text>
<text x="0" y="0" font-family="&quot;Liberation Sans&quot;, sans-serif" font-size="25.5" fill="#262626" transform="translate(906.35 320.20) rotate(-45)">waffle</text>
<text x="0" y="0" font-family="&quot;Liberation Sans&quot;, sans-serif" font-size="25.5" fill="#262626" transform="translate(951.70 320.20) rotate(-45)">nugget</text>
<text x="0" y="0" font-family="&quot;Liberation Sans&quot;, sans-serif" font-size="25.5" fill="#262626" transform="translate(997.05 320.20) rotate(-45)">goblin</text>
<defs><linearGradient id="g" x1="0" x2="1" y1="0" y2="0">
<stop offset="0.0000" stop-color="#ffffcc"/>
<stop offset="0.1250" stop-color="#ffeda0"/>
<stop offset="0.2500" stop-color="#fed976"/>
<stop offset="0.3750" stop-color="#feb24c"/>
<stop offset="0.5000" stop-color="#fd8d3c"/>
<stop offset="0.6250" stop-color="#fc4e2a"/>
<stop offset="0.7500" stop-color="#e31a1c"/>
<stop offset="0.8750" stop-color="#bd0026"/>
<stop offset="1.0000" stop-color="#800026"/>
</linearGradient></defs>
<rect x="159.7" y="1260.8" width="816.2" height="40.2" fill="url(#g)"/>
<rect x="160.20" y="1303" width="2" height="9.5" fill="#333"/>
<text x="161.20" y="1333.5" font-family="&quot;Liberation Sans&quot;, sans-serif" font-size="18.6" fill="#262626" text-anchor="middle">0</text>
<rect x="223.70" y="1303" width="2" height="9.5" fill="#333"/>
<text x="224.70" y="1333.5" font-family="&quot;Liberation Sans&quot;, sans-serif" font-size="18.6" fill="#262626" text-anchor="middle">1</text>
<rect x="338.30" y="1303" width="2" height="9.5" fill="#333"/>
<text x="339.30" y="1333.5" font-family="&quot;Liberation Sans&quot;, sans-serif" font-size="18.6" fill="#262626" text-anchor="middle">10</text>
<rect x="452.90" y="1303" width="2" height="9.5" fill="#333"/>
<text x="453.90" y="1333.5" font-family="&quot;Liberation Sans&quot;, sans-serif" font-size="18.6" fill="#262626" text-anchor="middle">100</text>
<rect x="567.50" y="1303" width="2" height="9.5" fill="#333"/>
<text x="568.50" y="1333.5" font-family="&quot;Liberation Sans&quot;, sans-serif" font-size="18.6" fill="#262626" text-anchor="middle">1,000</text>
<rect x="682.10" y="1303" width="2" height="9.5" fill="#333"/>
<text x="683.10" y="1333.5" font-family="&quot;Liberation Sans&quot;, sans-serif" font-size="18.6" fill="#262626" text-anchor="middle">10,000</text>
<rect x="796.70" y="1303" width="2" height="9.5" fill="#333"/>
<text x="797.70" y="1333.5" font-family="&quot;Liberation Sans&quot;, sans-serif" font-size="18.6" fill="#262626" text-anchor="middle">100,000</text>
<rect x="911.30" y="1303" width="2" height="9.5" fill="#333"/>
<text x="912.30" y="1333.5" font-family="&quot;Liberation Sans&quot;, sans-serif" font-size="18.6" fill="#262626" text-anchor="middle">1m</text>
<rect x="966.00" y="1303" width="2" height="9.5" fill="#333"/>
<text x="967.00" y="1333.5" font-family="&quot;Liberation Sans&quot;, sans-serif" font-size="18.6" fill="#262626" text-anchor="middle">3m</text>
</svg></body></html>
